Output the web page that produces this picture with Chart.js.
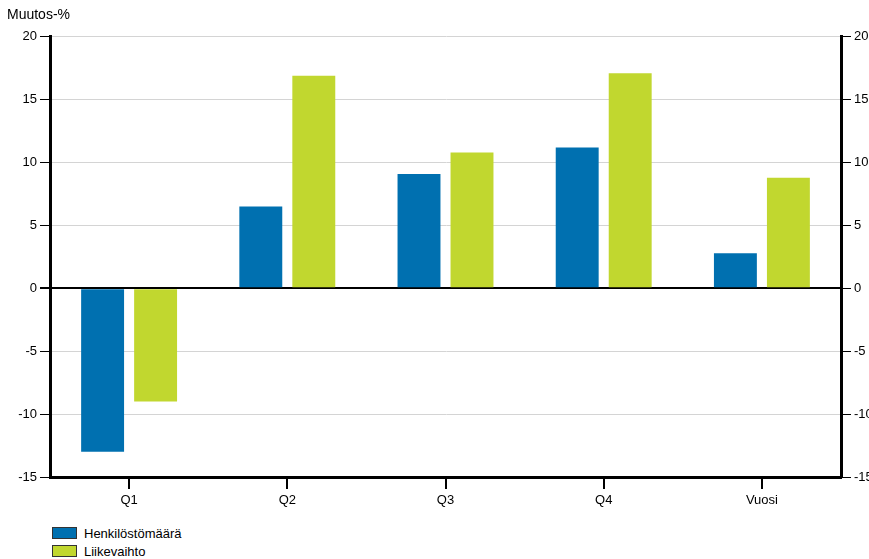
<!DOCTYPE html>
<html>
<head>
<meta charset="utf-8">
<script src="https://cdn.jsdelivr.net/npm/chart.js@4"></script>
<style>
  html, body { margin: 0; padding: 0; background: #fff; overflow: hidden; width: 869px; height: 559px; }
  #wrap { position: absolute; left: 0; top: 0; width: 900px; height: 515px; }
  #legend { position: absolute; left: 52px; top: 524px; font-family: "Liberation Sans", Arial, sans-serif; font-size: 13px; color: #000; }
  .item { display: flex; align-items: center; height: 18px; }
  .box { width: 23px; height: 10px; border: 1.5px solid #333; margin-right: 7px; }
</style>
</head>
<body>
<div id="wrap"><canvas id="chart"></canvas></div>
<div id="legend"></div>
<script>
const categories = ['Q1', 'Q2', 'Q3', 'Q4', 'Vuosi'];
const seriesNames = ['Henkilöstömäärä', 'Liikevaihto'];
const henkilostomaara = [-13.0, 6.5, 9.1, 11.2, 2.8];
const liikevaihto = [-9.0, 16.9, 10.8, 17.1, 8.8];
const colors = ['#0070b0', '#c1d72f'];

const font = { family: '"Liberation Sans", Arial, sans-serif', size: 13 };

const yTicks = {
    min: -15,
    max: 20,
    ticks: { stepSize: 5, color: '#000', font: font, padding: 3 },
    border: { color: '#000', width: 3 }
};

const config = {
    type: 'bar',
    data: {
        labels: categories,
        datasets: [
            { label: seriesNames[0], data: henkilostomaara, backgroundColor: colors[0], borderWidth: 0 },
            { label: seriesNames[1], data: liikevaihto, backgroundColor: colors[1], borderWidth: 0 }
        ]
    },
    options: {
        responsive: true,
        maintainAspectRatio: false,
        animation: false,
        categoryPercentage: 0.67,
        barPercentage: 0.81,
        layout: { padding: { left: 7 } },
        scales: {
            x: {
                ticks: { color: '#000', font: font, padding: 4 },
                grid: { offset: false, drawOnChartArea: false, tickLength: 12, tickColor: '#000', lineWidth: 2 },
                border: { color: '#000', width: 3 },
                afterFit: s => { s.height = 38; }
            },
            y: {
                ...yTicks,
                position: 'left',
                grid: {
                    color: c => c.tick.value === 0 ? '#000' : '#d4d4d4',
                    lineWidth: c => c.tick.value === 0 ? 2 : 1,
                    tickColor: '#000',
                    tickLength: 10
                },
                afterFit: s => { s.width = 43; }
            },
            y2: {
                ...yTicks,
                position: 'right',
                grid: { drawOnChartArea: false, tickColor: '#000', tickLength: 10 },
                afterFit: s => { s.width = 59; }
            }
        },
        plugins: {
            legend: { display: false },
            tooltip: { enabled: false },
            title: {
                display: true,
                text: 'Muutos-%',
                align: 'start',
                color: '#000',
                font: { ...font, size: 14, weight: 'normal' },
                padding: { top: 7, bottom: 13 }
            }
        }
    }
};

const chart = new Chart(document.getElementById('chart').getContext('2d'), config);

// legend below the chart, one row per series
const legend = document.getElementById('legend');
chart.data.datasets.forEach(ds => {
    const item = document.createElement('div');
    item.className = 'item';
    const box = document.createElement('span');
    box.className = 'box';
    box.style.background = ds.backgroundColor;
    const txt = document.createElement('span');
    txt.textContent = ds.label;
    item.appendChild(box);
    item.appendChild(txt);
    legend.appendChild(item);
});
</script>
</body>
</html>
